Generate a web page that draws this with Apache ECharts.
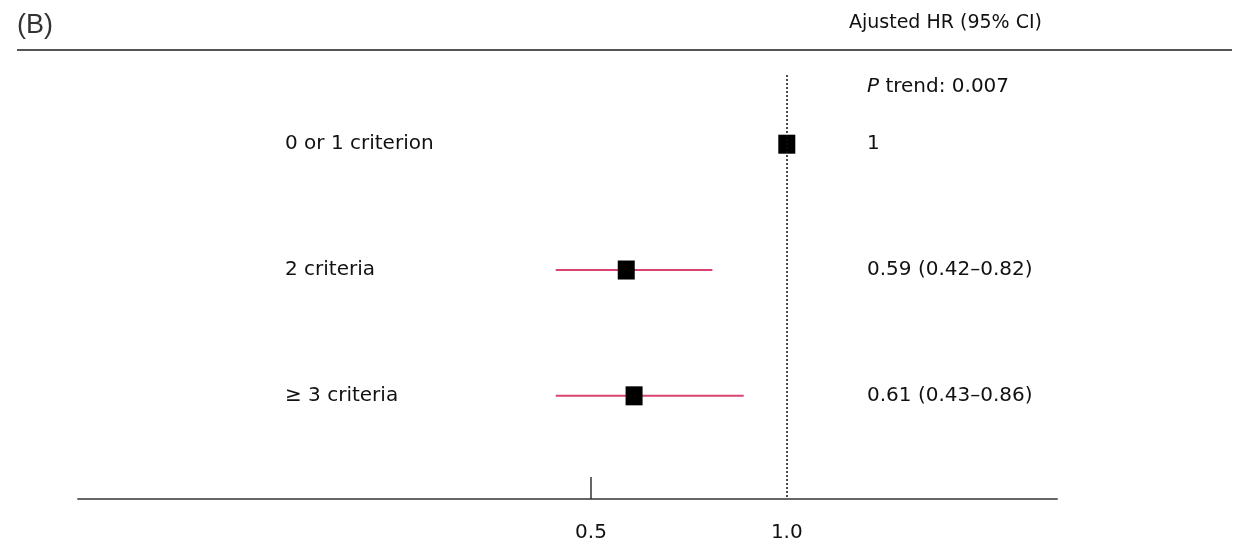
<!DOCTYPE html>
<html>
<head>
<meta charset="utf-8">
<script src="https://cdn.jsdelivr.net/npm/echarts@6/dist/echarts.min.js"></script>
<style>
  html, body { margin: 0; padding: 0; background: #fff; }
  #chart { width: 1235px; height: 548px; }
</style>
</head>
<body>
<div id="chart"></div>
<script>
// rows, top to bottom
const groups = ['0 or 1 criterion', '2 criteria', '≥ 3 criteria']
const hr = [1, 0.59, 0.61]
const lower = [null, 0.41, 0.41]
const upper = [null, 0.81, 0.89]
const hrText = ['1', '0.59 (0.42–0.82)', '0.61 (0.43–0.86)']
const xTicks = [0.5, 1.0]
const refLine = 1.0
const pTrend = '0.007'

const rowPos = groups.map((g, i) => i + 1)
const font = '"DejaVu Sans", "Open Sans", sans-serif'
const txt = '#111'

const ciData = []
groups.forEach((g, i) => {
    if (lower[i] != null) ciData.push([lower[i], upper[i], rowPos[i]])
})

const chart = echarts.init(document.getElementById('chart'), null, { renderer: 'canvas' })

const labelStyle = {
    fontSize: 20,
    fontFamily: font,
    color: txt
}

const option = {
    backgroundColor: '#fff',
    animation: false,
    grid: { left: 78, right: 178, top: 75, bottom: 49, containLabel: false },
    xAxis: {
        type: 'value',
        min: -0.81,
        max: 1.69,
        splitLine: { show: false },
        axisLine: { lineStyle: { color: '#666', width: 2 } },
        axisTick: {
            customValues: [0.5],
            inside: true,
            length: 22,
            lineStyle: { color: '#333', width: 1.5 }
        },
        axisLabel: Object.assign({
            customValues: xTicks,
            formatter: v => v.toFixed(1),
            margin: 24
        }, labelStyle)
    },
    yAxis: [
        {
            type: 'value',
            inverse: true,
            min: 0.45,
            max: 3.82,
            position: 'left',
            axisLine: { show: false },
            axisTick: { show: false },
            splitLine: { show: false },
            axisLabel: Object.assign({
                customValues: rowPos,
                formatter: v => groups[Math.round(v) - 1] || '',
                align: 'left',
                margin: -207
            }, labelStyle)
        },
        {
            type: 'value',
            inverse: true,
            min: 0.45,
            max: 3.82,
            position: 'right',
            axisLine: { show: false },
            axisTick: { show: false },
            splitLine: { show: false },
            axisLabel: Object.assign({
                customValues: rowPos,
                formatter: v => hrText[Math.round(v) - 1] || '',
                align: 'left',
                margin: -190
            }, labelStyle)
        }
    ],
    graphic: [
        {
            type: 'text', left: 17, top: 12,
            style: { text: '(B)', font: '27px "Liberation Sans", Arial, sans-serif', fill: '#333' }
        },
        {
            type: 'line',
            shape: { x1: 17, y1: 50, x2: 1232, y2: 50 },
            style: { stroke: '#555', lineWidth: 2 }
        },
        {
            type: 'text', left: 849, top: 14,
            style: { text: 'Ajusted HR (95% CI)', font: '19px ' + font, fill: txt }
        },
        {
            type: 'text', left: 867, top: 77,
            style: {
                text: '{i|P} trend: ' + pTrend,
                rich: {
                    i: { fontStyle: 'italic', fontSize: 20, fontFamily: font, fill: txt }
                },
                fontSize: 20,
                fontFamily: font,
                fill: txt
            }
        }
    ],
    series: [
        {
            type: 'custom',
            name: 'CI',
            data: ciData,
            renderItem: (params, api) => {
                const y = api.value(2)
                const p1 = api.coord([api.value(0), y])
                const p2 = api.coord([api.value(1), y])
                return {
                    type: 'line',
                    shape: { x1: p1[0], y1: p1[1], x2: p2[0], y2: p2[1] },
                    style: { stroke: '#d9436f', lineWidth: 2 }
                }
            },
            z: 2
        },
        {
            type: 'scatter',
            name: 'HR',
            data: hr.map((v, i) => [v, rowPos[i]]),
            symbol: 'rect',
            symbolSize: [17, 19],
            itemStyle: { color: '#000', opacity: 1 },
            z: 3,
            markLine: {
                silent: true,
                symbol: 'none',
                label: { show: false },
                lineStyle: { color: '#111', type: [2, 2], width: 1.5 },
                data: [{ xAxis: refLine }]
            }
        }
    ]
}

chart.setOption(option)
</script>
</body>
</html>
